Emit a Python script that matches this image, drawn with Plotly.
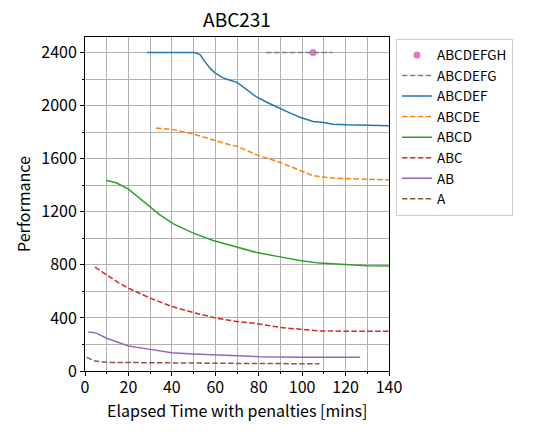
import plotly.graph_objects as go

# ---- data ----
names = ["ABCDEFGH", "ABCDEFG", "ABCDEF", "ABCDE", "ABCD", "ABC", "AB", "A"]

x_abcdefgh = [105]
y_abcdefgh = [2400]

x_abcdefg = [83.4, 114]
y_abcdefg = [2400, 2400]

x_abcdef = [28.6, 40, 50.5, 53, 55, 58, 60, 63, 65, 70, 74.5, 79, 83.7, 89.8, 95, 99, 105, 110, 114, 120.5, 130, 140]
y_abcdef = [2400, 2400, 2400, 2385, 2335, 2275, 2245, 2215, 2200, 2175, 2120, 2065, 2025, 1977, 1940, 1912, 1880, 1872, 1860, 1855, 1851, 1848]

x_abcde = [32.7, 40.7, 49.9, 56, 60.6, 65, 70, 79, 89.8, 99, 105, 114, 125, 140]
y_abcde = [1831, 1819, 1786, 1756, 1730, 1712, 1693, 1630, 1572, 1509, 1472, 1454, 1448, 1440]

x_abcd = [9.7, 14.6, 20, 25, 30, 34.5, 40.7, 49.9, 59, 70, 79, 89.8, 99, 108, 120.5, 130, 140]
y_abcd = [1437, 1417, 1371, 1305, 1240, 1177, 1109, 1039, 983, 931, 893, 860, 833, 813, 800, 794, 792]

x_abc = [4.6, 10, 15, 20, 30, 40, 50, 60.6, 70, 80, 90, 99, 108, 120.5, 130, 140]
y_abc = [783, 725, 670, 624, 549, 486, 440, 398, 373, 355, 328, 315, 302, 300, 300, 300]

x_ab = [1.5, 4.6, 10, 20, 30, 40, 50, 60.6, 80, 100, 126.6]
y_ab = [294, 289, 247, 189, 163, 138, 128, 121, 108, 104, 103]

x_a = [0.8, 4.6, 10, 20, 40, 60, 80, 108]
y_a = [103, 75, 65, 63, 60, 58, 56, 55]

colors = {
    "ABCDEFGH": "#e377c2", "ABCDEFG": "#7f7f7f", "ABCDEF": "#1f77b4",
    "ABCDE": "#ff7f0e", "ABCD": "#2ca02c", "ABC": "#d62728",
    "AB": "#9467bd", "A": "#8c564b",
}
dashed = {"ABCDEFG", "ABCDE", "ABC", "A"}

series = {
    "ABCDEFG": (x_abcdefg, y_abcdefg),
    "ABCDEF": (x_abcdef, y_abcdef),
    "ABCDE": (x_abcde, y_abcde),
    "ABCD": (x_abcd, y_abcd),
    "ABC": (x_abc, y_abc),
    "AB": (x_ab, y_ab),
    "A": (x_a, y_a),
}

FONT = "Noto Sans CJK JP"
fig = go.Figure()
fig.add_trace(go.Scatter(x=x_abcdefgh, y=y_abcdefgh, mode="markers", name="ABCDEFGH",
                         marker=dict(color=colors["ABCDEFGH"], size=7)))
for n in names[1:]:
    xs, ys = series[n]
    fig.add_trace(go.Scatter(
        x=xs, y=ys, mode="lines", name=n,
        line=dict(color=colors[n], width=1.5,
                  dash="5.5px,2.4px" if n in dashed else "solid"),
    ))

grid = "#b0b0b0"
axis_common = dict(
    showline=True, linecolor="black", linewidth=1, mirror=True,
    ticks="outside", ticklen=4, tickwidth=0.8, tickcolor="black",
    showgrid=True, gridcolor=grid, gridwidth=0.8, zeroline=False,
    tickfont=dict(size=16, color="black", family=FONT),
)
fig.update_xaxes(range=[0, 140], dtick=20, tick0=0,
                 minor=dict(dtick=10, showgrid=True, gridcolor=grid, gridwidth=0.8,
                            ticks="outside", ticklen=2, tickcolor="black"),
                 ticklabelstandoff=-2,
                 **axis_common)
fig.update_yaxes(range=[0, 2517], dtick=400, tick0=0,
                 minor=dict(dtick=200, showgrid=True, gridcolor=grid, gridwidth=0.8,
                            ticks="outside", ticklen=2, tickcolor="black"),
                 title=dict(text="Performance", font=dict(size=16, family=FONT, color="black"), standoff=6),
                 **axis_common)

fig.add_annotation(text="Elapsed Time with penalties [mins]", xref="paper", yref="paper",
                   x=0.5, y=-0.117, xanchor="center", yanchor="middle", showarrow=False,
                   font=dict(size=16, family=FONT, color="black"))

fig.update_layout(
    width=540, height=432,
    margin=dict(l=85, r=151, t=37, b=61),
    paper_bgcolor="white", plot_bgcolor="white",
    font=dict(family=FONT, color="black"),
    title=dict(text="ABC231", x=(85 + 389) / 2 / 540, xanchor="center", y=0.953, yanchor="middle",
               font=dict(size=19, family=FONT, color="black")),
    legend=dict(x=1.023, y=0.995, xanchor="left", yanchor="top",
                bordercolor="#cccccc", borderwidth=1, bgcolor="white",
                font=dict(size=13.5, family=FONT, color="black"),
                traceorder="normal", tracegroupgap=0, itemwidth=30),
    showlegend=True,
)

fig.write_html("out.html")
